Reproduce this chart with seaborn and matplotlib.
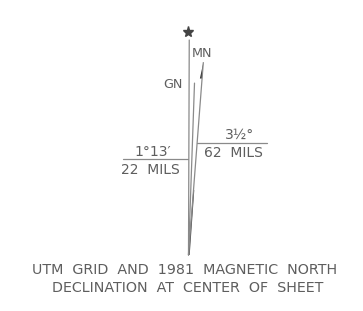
import numpy as np
import pandas as pd
import matplotlib.pyplot as plt
import seaborn as sns

# declination values (as printed) and the exaggerated angles used in the drawing
line_names = ["TN", "GN", "MN"]
draw_angle_deg = [0.2, 2.0, 4.4]      # angle from vertical as drawn
line_length = [215, 172, 193]         # length of each line from the pivot
label_text = ["", "GN", "MN"]

gn_angle_text = "1°13′"
gn_mils_text = "22  MILS"
mn_angle_text = "3½°"
mn_mils_text = "62  MILS"
caption = ["UTM  GRID  AND  1981  MAGNETIC  NORTH", "DECLINATION  AT  CENTER  OF  SHEET"]

pivot = (188.5, 255)
line_color = "#8a8a8a"
text_color = "#5e5e5e"

sns.set_theme(style="white")
plt.rcParams['font.family'] = ['DejaVu Sans']

fig = plt.figure(figsize=(3.63, 3.11), dpi=100)
ax = fig.add_axes([0, 0, 1, 1])
ax.set_xlim(0, 363)
ax.set_ylim(311, 0)
ax.axis("off")

rows = []
tops = {}
for name, ang, length in zip(line_names, draw_angle_deg, line_length):
    a = np.radians(ang)
    top = (pivot[0] + length * np.sin(a), pivot[1] - length * np.cos(a))
    tops[name] = top
    rows.append({"line": name, "x": pivot[0], "y": pivot[1]})
    rows.append({"line": name, "x": top[0], "y": top[1]})
df = pd.DataFrame(rows)

sns.lineplot(data=df, x="x", y="y", units="line", estimator=None, sort=False,
             color=line_color, linewidth=0.9, ax=ax, legend=False)

# tapered needle at the bottom of the MN line
a = np.radians(draw_angle_deg[2])
def pt(d):
    return (pivot[0] + d * np.sin(a), pivot[1] - d * np.cos(a))
p1, p2 = pt(0), pt(65)
ax.fill([p1[0] - 0.5, p2[0] - 0.2, p2[0] + 0.8, p1[0] + 1.2],
        [p1[1], p2[1], p2[1], p1[1]], color="#444444", lw=0)

# half arrowhead at top of MN
mt = tops["MN"]
q = pt(line_length[2] - 16)
ax.fill([mt[0], q[0] - 2.2, q[0]], [mt[1], q[1], q[1]], color="#333333", lw=0)

# star on true north
tn = tops["TN"]
ax.plot(tn[0] - 1, tn[1] - 8, marker="*", markersize=8, color="#444444")

# GN / MN labels
ax.text(tops["GN"][0] - 12, tops["GN"][1] + 1, "GN", ha="right", va="center",
        fontsize=9.2, color=text_color)
ax.text(tops["MN"][0] - 1, tops["MN"][1] - 9, "MN", ha="center", va="center",
        fontsize=9.2, color=text_color)

# declination annotations
ax.plot([123, 188], [159, 159], color=line_color, lw=0.9)
ax.text(153, 152, gn_angle_text, ha="center", va="center", fontsize=10, color=text_color)
ax.text(150, 170, gn_mils_text, ha="center", va="center", fontsize=10, color=text_color)

ax.plot([197, 267], [143, 143], color=line_color, lw=0.9)
ax.text(240, 135, mn_angle_text, ha="center", va="center", fontsize=10, color=text_color)
ax.text(233, 153, mn_mils_text, ha="center", va="center", fontsize=10, color=text_color)

ax.text(184.5, 270, caption[0], ha="center", va="center", fontsize=10.3, color=text_color)
ax.text(188, 288, caption[1], ha="center", va="center", fontsize=10.3, color=text_color)

fig.savefig("out.png", dpi=100, facecolor="white")
